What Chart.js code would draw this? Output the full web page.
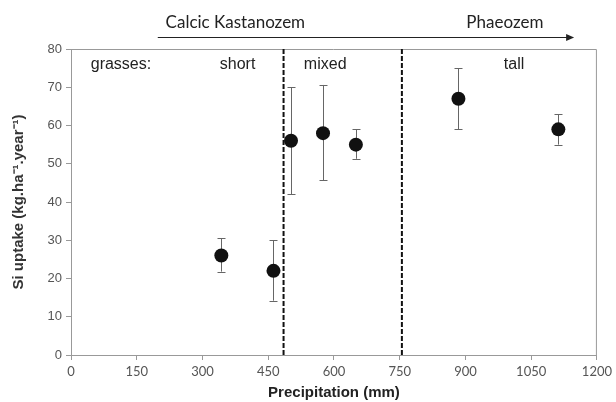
<!DOCTYPE html>
<html>
<head>
<meta charset="utf-8">
<script src="https://cdn.jsdelivr.net/npm/chart.js@4"></script>
<style>
html,body{margin:0;padding:0;background:#fff;}
canvas{display:block;}
</style>
</head>
<body>
<canvas id="c" width="616" height="402"></canvas>
<script>
// ---- data ----
const precipitation = [343, 462, 502, 575, 650, 884, 1112];
const siUptake      = [26, 22, 56, 58, 55, 67, 59];
const errLow        = [21.8, 14.2, 42, 45.7, 51.3, 59, 55];
const errHigh       = [30.5, 30, 70, 70.6, 59, 75, 63];
const dividers      = [485, 755];
const xTicks        = [0, 150, 300, 450, 600, 750, 900, 1050, 1200];
const yTicks        = [0, 10, 20, 30, 40, 50, 60, 70, 80];
const groupLabels   = ['grasses:', 'short', 'mixed', 'tall'];
const groupLabelX   = [114, 380, 580, 1011];
const groupLabelY   = 76;
const soilLabels    = ['Calcic Kastanozem', 'Phaeozem'];
const soilLabelX    = [375, 990];
const soilLabelY    = 87;
const soilArrowX    = [198, 1148];
const soilArrowY    = 83.1;

const points = precipitation.map((x, i) => ({x: x, y: siUptake[i]}));
const dividerSets = dividers.map(d => ({
  type: 'line',
  data: [{x: d, y: 0}, {x: d, y: 80}],
  borderColor: '#111',
  borderWidth: 2,
  borderDash: [5, 2],
  pointRadius: 0,
  showLine: true,
  order: 2
}));

const extras = {
  id: 'extras',
  beforeDatasetsDraw(chart) {
    const {ctx, chartArea: a, scales: {x, y}} = chart;
    ctx.save();
    // plot box top & right
    ctx.strokeStyle = '#999';
    ctx.lineWidth = 1;
    ctx.beginPath();
    ctx.moveTo(a.left, a.top + 0.5);
    ctx.lineTo(a.right - 0.5, a.top + 0.5);
    ctx.lineTo(a.right - 0.5, a.bottom);
    ctx.stroke();
    // error bars
    ctx.strokeStyle = '#666';
    ctx.lineWidth = 1;
    precipitation.forEach((px, i) => {
      const cx = Math.round(x.getPixelForValue(px)) + 0.5;
      const yl = y.getPixelForValue(errLow[i]);
      const yh = y.getPixelForValue(errHigh[i]);
      ctx.beginPath();
      ctx.moveTo(cx, yl); ctx.lineTo(cx, yh);
      ctx.moveTo(cx - 4, Math.round(yl) + 0.5); ctx.lineTo(cx + 4, Math.round(yl) + 0.5);
      ctx.moveTo(cx - 4, Math.round(yh) + 0.5); ctx.lineTo(cx + 4, Math.round(yh) + 0.5);
      ctx.stroke();
    });
    // group labels
    ctx.fillStyle = '#222';
    ctx.font = '16px "Liberation Sans", Arial, sans-serif';
    ctx.textAlign = 'center';
    ctx.textBaseline = 'middle';
    groupLabels.forEach((t, i) => {
      ctx.fillText(t, x.getPixelForValue(groupLabelX[i]), y.getPixelForValue(groupLabelY));
    });
    ctx.restore();
  },
  afterDraw(chart) {
    const {ctx, scales: {x, y}} = chart;
    ctx.save();
    ctx.fillStyle = '#222';
    ctx.font = '17px Lato, "Open Sans", sans-serif';
    ctx.textAlign = 'center';
    ctx.textBaseline = 'middle';
    soilLabels.forEach((t, i) => {
      ctx.fillText(t, x.getPixelForValue(soilLabelX[i]), y.getPixelForValue(soilLabelY));
    });
    const x0 = x.getPixelForValue(soilArrowX[0]);
    const x1 = x.getPixelForValue(soilArrowX[1]);
    const ay = Math.round(y.getPixelForValue(soilArrowY)) + 0.5;
    ctx.strokeStyle = '#222';
    ctx.lineWidth = 1;
    ctx.beginPath();
    ctx.moveTo(x0, ay); ctx.lineTo(x1 - 4, ay);
    ctx.stroke();
    ctx.beginPath();
    ctx.moveTo(x1, ay);
    ctx.lineTo(x1 - 8, ay - 3.5);
    ctx.lineTo(x1 - 8, ay + 3.5);
    ctx.closePath();
    ctx.fill();
    ctx.restore();
  }
};

new Chart(document.getElementById('c'), {
  type: 'scatter',
  data: {
    datasets: [
      {
        data: points,
        backgroundColor: '#111',
        borderColor: '#111',
        pointRadius: 7,
        pointBorderWidth: 0,
        pointHoverRadius: 7,
        order: 1
      },
      ...dividerSets
    ]
  },
  options: {
    responsive: false,
    animation: false,
    events: [],
    layout: {padding: {top: 49, right: 18, left: 0, bottom: 0}},
    plugins: {legend: {display: false}, tooltip: {enabled: false}},
    scales: {
      x: {
        type: 'linear',
        min: 0, max: 1200,
        afterBuildTicks(s) { s.ticks = xTicks.map(v => ({value: v})); },
        afterFit(s) { s.height = 47; },
        ticks: {
          color: '#555',
          font: {family: 'Lato, "Open Sans", sans-serif', size: 13},
          padding: 4,
          maxRotation: 0,
          callback: v => String(v)
        },
        grid: {drawOnChartArea: false, drawTicks: true, tickLength: 5, color: '#999'},
        border: {display: true, color: '#999', width: 1},
        title: {
          display: true,
          text: 'Precipitation (mm)',
          color: '#222',
          font: {family: '"Liberation Sans", Arial, sans-serif', size: 15, weight: 'bold'},
          padding: {top: 0, bottom: 0}
        }
      },
      y: {
        type: 'linear',
        min: 0, max: 80,
        afterBuildTicks(s) { s.ticks = yTicks.map(v => ({value: v})); },
        afterFit(s) { s.width = 71; },
        ticks: {
          color: '#555',
          font: {family: '"Liberation Sans", Arial, sans-serif', size: 13},
          padding: 4,
          callback: v => String(v)
        },
        grid: {drawOnChartArea: false, drawTicks: true, tickLength: 5, color: '#999'},
        border: {display: true, color: '#999', width: 1},
        title: {
          display: true,
          text: 'Si uptake (kg.ha\u207B\u00B9.year\u207B\u00B9)',
          color: '#333',
          font: {family: '"Liberation Sans", Arial, sans-serif', size: 15, weight: 'bold'},
          padding: {top: 10, bottom: 0}
        }
      }
    }
  },
  plugins: [extras]
});
</script>
</body>
</html>
